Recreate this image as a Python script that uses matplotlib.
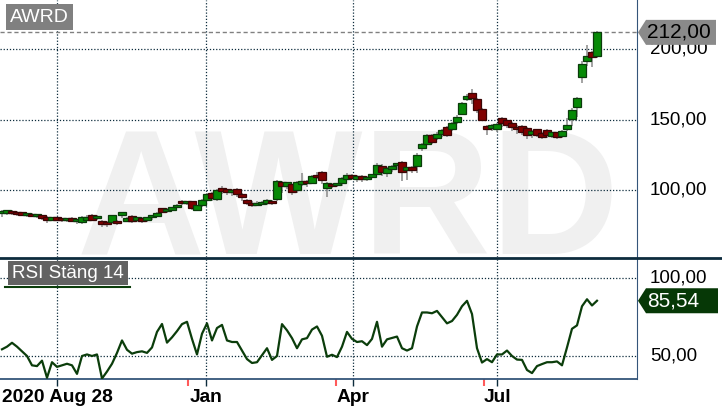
import matplotlib
matplotlib.use("Agg")
import matplotlib.pyplot as plt
from matplotlib import font_manager
from matplotlib.patches import Polygon
from matplotlib.lines import Line2D
from matplotlib.transforms import blended_transform_factory
import numpy as np

# candles (open, close, high, low), one every couple of trading days
opens = [83.5, 84, 85, 84.5, 83.5, 82, 83, 81.5, 82, 81, 79, 80.5, 79.5, 78.5, 80, 78, 77, 79, 82.5, 80,
         78, 77.5, 77.5, 78, 82, 78, 81.5, 79, 80, 79, 80.5, 81.5, 87, 85, 86, 88, 92.5, 90.5, 92, 86,
         89, 93, 98, 93.5, 101.5, 100.5, 98.5, 101, 97.5, 93, 91, 89.5, 90, 91, 92, 93.5, 106, 103, 104, 100,
         104.5, 106, 105, 111, 113, 101.5, 104, 103.5, 105, 108, 110.5, 107.5, 110, 107.5, 109.5, 111.5, 117, 112, 115, 117.5,
         120, 114, 116.5, 117, 129.5, 133, 139, 137, 139.5, 145, 143, 148, 154, 164.5, 169, 165, 157.5, 145.5, 144, 143,
         151.5, 149.5, 147.5, 145, 145.5, 144, 139.5, 143, 140.5, 142.5, 138.5, 141, 138.5, 143, 150.5, 159, 180.5, 191.5, 198, 195.2]
closes = [85, 85, 83.5, 83, 82.5, 83, 81.5, 82.5, 80, 78.5, 80.5, 79, 78.5, 79.5, 78, 79, 80.5, 81, 79, 81.5,
          76, 75.5, 82, 76.5, 84.3, 80, 78, 80.5, 78, 80.5, 82, 84, 84.5, 86.5, 87.5, 89.5, 90.5, 92, 87.5, 89,
          93, 97.5, 94.5, 100, 99, 98.5, 100, 97, 95, 90.5, 89.5, 90.5, 91.5, 92.5, 90.5, 106.5, 102.5, 105.5, 98.5, 106,
          106.5, 105, 110, 109, 107, 105, 103, 104.5, 108.5, 111, 108.5, 110, 107.5, 109.5, 111, 118, 113, 115.5, 117, 118.5,
          113, 116, 114.5, 125, 133, 139, 134, 140, 142.5, 139, 147.5, 152, 162, 167, 165.5, 157, 150, 143, 146.5, 147,
          147.5, 146, 145, 143.5, 141.5, 139, 142, 139, 137.5, 139, 141, 138, 142, 146.5, 157, 165.5, 189.5, 195, 194.5, 212]
highs = [85.5, 85.5, 85.5, 85, 84, 83.5, 83.5, 83, 82.5, 81.5, 81, 81, 80, 80, 80.5, 79.5, 81.5, 82, 83, 82,
         78.5, 78, 82.5, 78.5, 84.5, 81, 82, 81, 80.5, 81, 82.5, 84.5, 87.5, 87, 88, 90, 93, 92.5, 92.5, 89.5,
         93.5, 98, 98.5, 101, 102.5, 101, 101, 101.5, 98, 93.5, 92, 92, 92.5, 93.5, 93, 107, 106.5, 106, 104.5, 106.5,
         112, 107, 110.5, 113, 113.5, 105.5, 105, 105, 109, 112, 111.5, 110.5, 110.5, 110, 111.5, 119, 118.5, 116, 117.5, 119,
         120.5, 116.5, 117, 126, 133.5, 139.5, 139.5, 141, 143, 145.5, 148, 153, 162.5, 168, 171.8, 165.5, 158, 146, 147, 147.5,
         152, 150, 148, 146, 146, 144.5, 142.5, 143.5, 141, 143, 141.5, 141.5, 142.5, 151, 158, 166, 192, 203, 199, 213]
lows = [81, 82, 82, 81.5, 81.5, 80.5, 80.5, 80, 79, 76.5, 78, 78, 77, 77.5, 77, 75.5, 76, 78, 78, 78.5,
        74, 73.5, 76, 75, 80, 77, 76.5, 77, 76.5, 77.5, 79, 80.5, 83.5, 84, 85, 87, 89.5, 89, 85.5, 85,
        88, 92, 92, 92.5, 97, 96.5, 96, 95, 92.5, 89, 88, 88.5, 89, 89.5, 89, 92.5, 98, 101, 96.5, 98,
        103, 102, 104, 108, 104, 95, 101.5, 102, 103, 107, 107, 106, 106, 106.5, 108.5, 111, 110, 109, 113, 114,
        106.5, 107, 112, 112, 127.5, 132, 133, 135.5, 138, 138, 142, 147, 153, 163.5, 161, 155, 149, 139, 142, 141,
        144.5, 144, 142, 140, 139, 136, 137, 137.5, 136, 137, 137, 136.5, 137, 142, 145.5, 152, 176, 188, 187.6, 194]

# RSI(14) on close
rsi = [54.3, 56, 58.5, 56, 53, 50, 44, 43.5, 47, 36, 46, 43, 44, 45, 44, 38.5, 50, 51, 50, 51,
       35.5, 40, 45, 52, 60, 54, 51.5, 52.5, 53, 52, 55.5, 65.5, 70.6, 58.6, 62, 66, 70.5, 72, 61, 51,
       64.3, 71, 60, 68, 70, 60, 59, 59, 53.5, 48, 45.5, 46, 50.5, 55, 47.5, 50, 70.5, 66.5, 61.5, 55,
       60.7, 61.5, 67, 69, 63, 49.5, 50.8, 49.3, 56, 65.5, 61, 59, 59.5, 57, 61, 72, 56, 60.7, 61.6, 62.5,
       55, 53.5, 55, 69, 78, 78, 77.5, 79, 75, 71, 72.5, 76.5, 82, 85.5, 77, 55, 45.8, 48, 46, 51,
       51, 53.5, 50, 47.7, 47.5, 41, 39, 43.5, 44.8, 46, 46, 46.5, 44, 55.5, 67.5, 69.7, 82, 86.5, 82.5, 85.54]

tick_labels = ['2020 Aug 28', 'Jan', 'Apr', 'Jul']
price_ticks = [100, 150, 200]
rsi_ticks = [50, 100]
last_price = 212
last_rsi = 85.54
ticker = 'AWRD'
rsi_name = 'RSI Stäng 14'

plt.rcParams['font.family'] = ['Liberation Sans', 'DejaVu Sans']

W, H = 722, 411
fig = plt.figure(figsize=(W / 100, H / 100), dpi=100)
ax1 = fig.add_axes([0, 1 - 257 / H, 637 / W, 257 / H])
ax2 = fig.add_axes([0, 1 - 379 / H, 637 / W, 120 / H])

x = np.arange(len(opens))
o = np.array(opens)
c = np.array(closes)
major_pos = [11, 40.8, 70.2, 99]
red_pos = [37.2, 66.8, 96.4]
grid_col = '#0d2c3d'
axis_col = '#34557a'

for ax in (ax1, ax2):
    ax.set_xlim(-0.4, 127)
    for s in ax.spines.values():
        s.set_visible(False)
    ax.spines['right'].set_visible(True)
    ax.spines['right'].set_color(axis_col)
    ax.set_yticks([])
    for p in major_pos:
        ax.axvline(p, color=grid_col, lw=0.9, ls=(0, (1, 1.5)), zorder=1)

ax1.set_ylim(52.4, 235)
ax2.set_ylim(35.2, 112.4)
ax1.set_xticks([])

# watermark
names = {f.name for f in font_manager.fontManager.ttflist}
if 'Liberation Sans Narrow' in names:
    wm_fam, wm_size = 'Liberation Sans Narrow', 162
else:
    wm_fam, wm_size = 'Liberation Sans', 128
ax1.text(0.547, 0.012, ticker, transform=ax1.transAxes, ha='center', va='baseline',
         fontsize=wm_size, fontweight='bold', family=wm_fam, color='#f0f0f0', zorder=0)

for v in price_ticks:
    ax1.axhline(v, color=grid_col, lw=0.9, ls=(0, (1, 1.5)), zorder=1)
ax1.axhline(last_price, color='#808080', lw=1, ls=(0, (3, 2)), zorder=1)

# candles
up = c >= o
body_col = np.where(up, '#078a07', '#800000')
edge_col = np.where(up, '#0b3b0b', '#3a0505')
body = np.maximum(np.abs(c - o), 1.6)
ax1.vlines(x, lows, highs, color='#8a8a8a', lw=1.1, zorder=2)
ax1.bar(x, body, bottom=np.minimum(o, c), width=1.6, color=body_col,
        edgecolor=edge_col, linewidth=0.9, zorder=3)

# RSI
for v in rsi_ticks:
    ax2.axhline(v, color=grid_col, lw=0.9, ls=(0, (1, 1.5)), zorder=1)
ax2.plot(x, rsi, color='#0b3d0b', lw=1.6, zorder=3)

ax2.spines['bottom'].set_visible(True)
ax2.spines['bottom'].set_color(axis_col)
ax2.spines['bottom'].set_linewidth(1.3)
ax2.set_xticks(major_pos)
ax2.set_xticklabels(tick_labels, fontsize=13.8, fontweight='bold')
ax2.tick_params(axis='x', which='major', length=5, width=1, color=grid_col, pad=2)
ax2.set_xticks(red_pos, minor=True)
ax2.tick_params(axis='x', which='minor', length=5, width=1.5, color='#ff5a5a')

# right scale labels
tr1 = blended_transform_factory(ax1.transAxes, ax1.transData)
tr2 = blended_transform_factory(ax2.transAxes, ax2.transData)
for v in price_ticks:
    ax1.text(650 / 637, v, f'{v:.2f}'.replace('.', ','), transform=tr1, va='center', ha='left',
             fontsize=13.5, clip_on=False, zorder=3)
for v in rsi_ticks:
    ax2.text(650 / 637, v, f'{v:.2f}'.replace('.', ','), transform=tr2, va='center', ha='left',
             fontsize=13.5, clip_on=False, zorder=3)

# last value tags
h1 = 12.5 / 1.407
ax1.add_patch(Polygon([(638 / 637, last_price), (646 / 637, last_price + h1), (716 / 637, last_price + h1),
                       (716 / 637, last_price - h1), (646 / 637, last_price - h1)],
                      closed=True, transform=tr1, fc='#8a8a8a', ec='none', clip_on=False, zorder=4))
ax1.text(647 / 637, last_price, f'{last_price:.2f}'.replace('.', ','), transform=tr1, va='center',
         ha='left', fontsize=15, color='black', clip_on=False, zorder=5)
h2 = 12.5 / 1.554
ax2.add_patch(Polygon([(638 / 637, last_rsi), (646 / 637, last_rsi + h2), (718 / 637, last_rsi + h2),
                       (718 / 637, last_rsi - h2), (646 / 637, last_rsi - h2)],
                      closed=True, transform=tr2, fc='#063806', ec='none', clip_on=False, zorder=4))
ax2.text(647 / 637, last_rsi, f'{last_rsi:.2f}'.replace('.', ','), transform=tr2, va='center',
         ha='left', fontsize=15, color='white', clip_on=False, zorder=5)

# panel titles
ax1.text(10 / 637, 1 - 17 / 257, ticker, transform=ax1.transAxes, va='center', ha='left',
         fontsize=14, color='white', zorder=6,
         bbox=dict(boxstyle='square,pad=0.22', fc='#808080', ec='none'))
ax2.text(12 / 637, 1 - 14 / 120, rsi_name, transform=ax2.transAxes, va='center', ha='left',
         fontsize=13.5, color='white', zorder=6,
         bbox=dict(boxstyle='square,pad=0.2', fc='#626262', ec='none'))
ax2.plot([5 / 637, 130 / 637], [1 - 28 / 120] * 2, transform=ax2.transAxes, color='#0b3d0b',
         lw=1.5, zorder=6, clip_on=False)

# separator between panels
fig.add_artist(Line2D([0, 1], [1 - 258 / H] * 2, transform=fig.transFigure, color='#0d2c3d', lw=2))

fig.savefig('out.png', dpi=100)
